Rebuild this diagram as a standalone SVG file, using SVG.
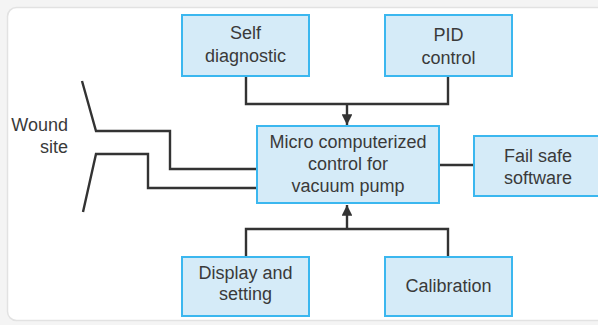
<svg xmlns="http://www.w3.org/2000/svg" width="598" height="325" viewBox="0 0 598 325">
<defs>
<style>
.box{fill:#d5ebf8;stroke:#3bb7ef;stroke-width:2}
.t{font-family:"Liberation Sans",Arial,sans-serif;font-size:18px;fill:#3a3a3a;text-anchor:middle}
.c{fill:none;stroke:#333;stroke-width:2.4;stroke-linejoin:miter}
</style>
<marker id="ah" viewBox="0 0 10 10" refX="10" refY="5" markerWidth="4.5" markerHeight="4.5" orient="auto" markerUnits="strokeWidth">
<path d="M0,0 L10,5 L0,10 Z" fill="#333"/>
</marker>
</defs>
<rect x="0" y="0" width="598" height="325" fill="#f4f4f4"/>
<rect x="7.5" y="7.5" width="600" height="313" rx="9" fill="#ffffff" stroke="#e2e2e2" stroke-width="1.5"/>
<g id="connectors">
<path class="c" d="M246,76 V104 H448 V76"/>
<path class="c" d="M347,104 V125" marker-end="url(#ah)"/>
<path class="c" d="M246,257 V229 H448 V257"/>
<path class="c" d="M347,229 V205" marker-end="url(#ah)"/>
<path class="c" d="M439,165 H474"/>
<path class="c" d="M82,81 L96,131 H170 V169 H257"/>
<path class="c" d="M83,212 L96,154 H148 V188 H257"/>
</g>
<g id="self">
<rect class="box" x="182" y="15" width="127" height="61"/>
<text class="t" x="245.5" y="39">Self</text>
<text class="t" x="245.5" y="62">diagnostic</text>
</g>
<g id="pid">
<rect class="box" x="385" y="15" width="127" height="61"/>
<text class="t" x="448.5" y="41">PID</text>
<text class="t" x="448.5" y="64">control</text>
</g>
<g id="micro">
<rect class="box" x="257" y="126" width="182" height="77"/>
<text class="t" x="348" y="148">Micro computerized</text>
<text class="t" x="348" y="170">control for</text>
<text class="t" x="348" y="192">vacuum pump</text>
</g>
<g id="failsafe">
<rect class="box" x="474" y="136" width="125" height="60"/>
<text class="t" x="538" y="162">Fail safe</text>
<text class="t" x="538" y="184">software</text>
</g>
<g id="display">
<rect class="box" x="182" y="257" width="127" height="59"/>
<text class="t" x="245.5" y="279">Display and</text>
<text class="t" x="245.5" y="300">setting</text>
</g>
<g id="calibration">
<rect class="box" x="385" y="257" width="127" height="59"/>
<text class="t" x="448.5" y="292">Calibration</text>
</g>
<g id="wound">
<text class="t" x="68" y="131" style="text-anchor:end">Wound</text>
<text class="t" x="68" y="153" style="text-anchor:end">site</text>
</g>
</svg>
